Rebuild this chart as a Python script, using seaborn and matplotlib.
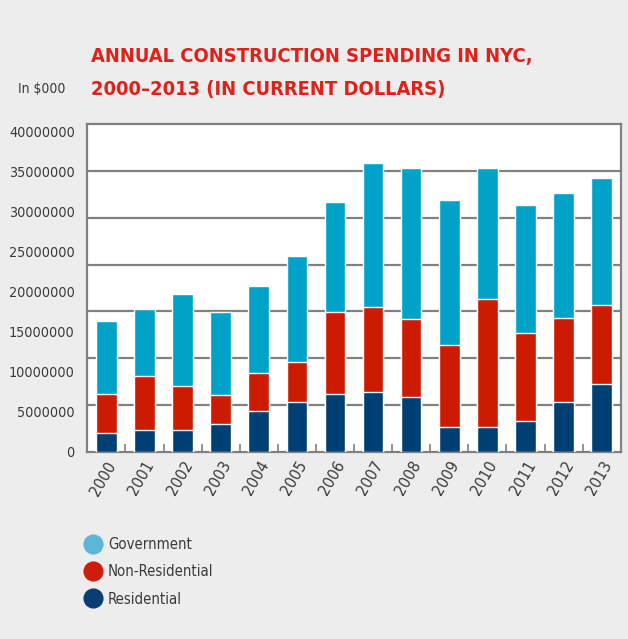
#!/usr/bin/env python3
"""
Annual construction spending in NYC, 2000-2013, stacked by sector.
"""

import matplotlib
matplotlib.use("Agg")
import matplotlib.pyplot as plt
from matplotlib.lines import Line2D
from matplotlib.ticker import FixedLocator, FuncFormatter
import pandas as pd
import seaborn as sns


years = [str(y) for y in range(2000, 2014)]
# values in $000
residential = [2400000, 2700000, 2700000, 3500000, 5100000, 6200000, 7250000,
               7500000, 6900000, 3100000, 3100000, 3900000, 6250000, 8500000]
non_residential = [4800000, 6800000, 5500000, 3600000, 4800000, 5000000, 10200000,
                   10600000, 9650000, 10300000, 16000000, 10900000, 10500000, 9800000]
government = [9100000, 8300000, 11500000, 10400000, 10800000, 13300000, 13800000,
              18000000, 18900000, 18100000, 16400000, 16000000, 15600000, 15900000]

y_ticks = [0, 5000000, 10000000, 15000000, 20000000, 25000000, 30000000, 35000000, 40000000]

BG = "#EDEDED"
C_GOV, C_NONRES, C_RES = "#00A2C7", "#CC1B00", "#003F73"
L_GOV, L_NONRES, L_RES = "#5BB7D5", "#D01C0A", "#0A3D72"
GRID = "#808080"
TXT = "#3A3A3A"

df = pd.DataFrame({"Year": years, "Residential": residential,
                   "Non-Residential": non_residential, "Government": government})
df["res_top"] = df["Residential"]
df["nonres_top"] = df["res_top"] + df["Non-Residential"]
df["gov_top"] = df["nonres_top"] + df["Government"]

sns.set_theme(style="white")
plt.rcParams["font.family"] = ["DejaVu Sans"]
plt.rcParams["font.stretch"] = "condensed"

fig = plt.figure(figsize=(6.28, 6.39), dpi=100, facecolor=BG)
ax = fig.add_axes([0.139, 0.2931, 0.8495, 0.5124])
ax.set_facecolor("white")

for col, color in [("gov_top", C_GOV), ("nonres_top", C_NONRES), ("res_top", C_RES)]:
    sns.barplot(data=df, x="Year", y=col, order=years, color=color,
                width=0.54, saturation=1, ax=ax, zorder=3)

ymax = 40925000
ax.set_xlim(-0.5, len(years) - 0.5)
ax.set_ylim(0, ymax)
ax.set_xlabel("")
ax.set_ylabel("")

# labels on the 5M scale, gridlines split the panel into seven bands
ax.yaxis.set_major_locator(FixedLocator(y_ticks))
ax.yaxis.set_major_formatter(FuncFormatter(lambda v, p: f"{int(v)}"))
ax.yaxis.set_minor_locator(FixedLocator([ymax * k / 7 for k in range(1, 7)]))
ax.grid(False)
ax.grid(True, axis="y", which="minor", color=GRID, linewidth=1.6, zorder=1)
ax.tick_params(axis="y", which="both", length=0, labelsize=10.3, labelcolor=TXT, pad=9)

ax.xaxis.set_minor_locator(FixedLocator([i + 0.5 for i in range(len(years) - 1)]))
ax.tick_params(axis="x", which="major", length=0, labelsize=11.5, labelcolor=TXT, pad=5)
ax.tick_params(axis="x", which="minor", direction="in", length=6, width=1.2,
               color=GRID, bottom=True)
for lab in ax.get_xticklabels():
    lab.set_rotation(60)
    lab.set_ha("right")
    lab.set_rotation_mode("anchor")

for side in ["left", "right", "top", "bottom"]:
    ax.spines[side].set_color(GRID)
    ax.spines[side].set_linewidth(1.6)

fig.text(0.1444, 0.9034, "ANNUAL CONSTRUCTION SPENDING IN NYC,", color="#E0211A",
         fontsize=14.4, fontweight="bold", va="baseline", ha="left")
fig.text(0.1444, 0.8513, "2000\u20132013 (IN CURRENT DOLLARS)", color="#E0211A",
         fontsize=14.4, fontweight="bold", va="baseline", ha="left")
fig.text(0.0287, 0.8545, "In $000", color=TXT, fontsize=10, va="baseline", ha="left")

handles = [Line2D([], [], marker="o", linestyle="none", markersize=13.5,
                  markerfacecolor=c, markeredgecolor=c)
           for c in (L_GOV, L_NONRES, L_RES)]
fig.legend(handles, ["Government", "Non-Residential", "Residential"],
           loc="upper left", bbox_to_anchor=(0.122, 0.171), frameon=False,
           fontsize=10.7, labelcolor=TXT, handletextpad=0.4, labelspacing=0.82,
           borderpad=0, handlelength=1.2)

plt.savefig("out.png", dpi=100, facecolor=BG)
plt.close()
